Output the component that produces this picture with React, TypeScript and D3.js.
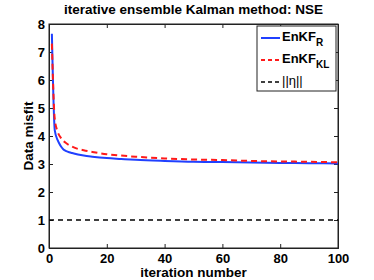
import React, { useEffect, useRef } from 'react';
import * as d3 from 'd3';

// iterations sampled along the curves
const iterations = [1, 2, 3, 4, 5, 6, 7, 8, 10, 12, 15, 20, 25, 30, 40, 50, 60, 70, 80, 90, 100];
const enkfR = [7.65, 4.2, 3.85, 3.65, 3.52, 3.46, 3.42, 3.39, 3.34, 3.3, 3.26, 3.21, 3.18, 3.15, 3.11, 3.08, 3.07, 3.05, 3.04, 3.03, 3.02];
const enkfKL = [7.3, 4.6, 4.15, 3.95, 3.82, 3.74, 3.67, 3.62, 3.54, 3.49, 3.43, 3.35, 3.3, 3.26, 3.2, 3.16, 3.14, 3.11, 3.09, 3.08, 3.06];
const etaIter = [0, 100];
const etaNorm = [1, 1];

const xTicks = [0, 20, 40, 60, 80, 100];
const yTicks = [0, 1, 2, 3, 4, 5, 6, 7, 8];

const App = () => {
  const ref = useRef<SVGSVGElement>(null);

  useEffect(() => {
    const width = 374;
    const height = 280;
    const margin = { top: 24, right: 36, bottom: 32, left: 49 };
    const innerW = width - margin.left - margin.right;
    const innerH = height - margin.top - margin.bottom;

    const svg = d3.select(ref.current);
    svg.selectAll('*').remove();
    svg.attr('width', width).attr('height', height)
      .style('font-family', '"Liberation Sans", Arial, sans-serif');

    const g = svg.append('g').attr('transform', `translate(${margin.left},${margin.top})`);

    const x = d3.scaleLinear().domain([0, 100]).range([0, innerW]);
    const y = d3.scaleLinear().domain([0, 8]).range([innerH, 0]);

    // box
    g.append('rect').attr('width', innerW).attr('height', innerH)
      .attr('fill', 'white').attr('stroke', '#222').attr('stroke-width', 1);

    // axes, ticks pointing inward
    const xAxis = g.append('g').attr('transform', `translate(0,${innerH})`)
      .call(d3.axisBottom(x).tickValues(xTicks).tickSize(-4).tickPadding(6));
    const yAxis = g.append('g')
      .call(d3.axisLeft(y).tickValues(yTicks).tickSize(-4).tickPadding(4));
    g.append('g').call(d3.axisTop(x).tickValues(xTicks).tickSize(-4).tickFormat(() => ''));
    g.append('g').attr('transform', `translate(${innerW},0)`)
      .call(d3.axisRight(y).tickValues(yTicks).tickSize(-4).tickFormat(() => ''));

    g.selectAll('.domain').attr('stroke', '#222');
    g.selectAll('.tick line').attr('stroke', '#222');
    [xAxis, yAxis].forEach((a) => a.selectAll('text')
      .attr('font-size', 13).attr('font-weight', 'bold').attr('fill', '#000')
      .style('font-family', '"Liberation Sans", Arial, sans-serif'));

    const line = d3.line<[number, number]>()
      .x((d) => x(d[0])).y((d) => y(d[1])).curve(d3.curveMonotoneX);

    g.append('path').datum(etaIter.map((v, i) => [v, etaNorm[i]] as [number, number]))
      .attr('d', line).attr('fill', 'none').attr('stroke', '#000')
      .attr('stroke-width', 1.5).attr('stroke-dasharray', '5,4');

    g.append('path').datum(iterations.map((v, i) => [v, enkfR[i]] as [number, number]))
      .attr('d', line).attr('fill', 'none').attr('stroke', '#2040ff').attr('stroke-width', 2);

    g.append('path').datum(iterations.map((v, i) => [v, enkfKL[i]] as [number, number]))
      .attr('d', line).attr('fill', 'none').attr('stroke', '#ff1a1a')
      .attr('stroke-width', 2).attr('stroke-dasharray', '6,4');

    // legend
    const lg = svg.append('g').attr('transform', 'translate(257,26)');
    lg.append('rect').attr('width', 79).attr('height', 65)
      .attr('fill', 'white').attr('stroke', '#222').attr('stroke-width', 1);
    const entries = [
      { name: 'EnKF', sub: 'R', color: '#2040ff', dash: null, w: 2, y: 12 },
      { name: 'EnKF', sub: 'KL', color: '#ff1a1a', dash: '4,3', w: 2, y: 34 },
      { name: '||η||', sub: '', color: '#000', dash: '4,3', w: 1.5, y: 56 },
    ];
    entries.forEach((e) => {
      lg.append('line').attr('x1', 4).attr('x2', 23).attr('y1', e.y).attr('y2', e.y)
        .attr('stroke', e.color).attr('stroke-width', e.w)
        .attr('stroke-dasharray', e.dash);
      const t = lg.append('text').attr('x', 25).attr('y', e.y + 3)
        .attr('font-size', 13).attr('font-weight', e.sub ? 'bold' : 'normal');
      t.append('tspan').text(e.name);
      if (e.sub) {
        t.append('tspan').attr('dy', 5).attr('font-size', 10).text(e.sub);
      }
    });

    // titles
    svg.append('text').attr('x', margin.left + innerW / 2).attr('y', 14)
      .attr('text-anchor', 'middle').attr('font-size', 13.5).attr('font-weight', 'bold')
      .text('iterative ensemble Kalman method: NSE');

    svg.append('text').attr('x', margin.left + innerW / 2).attr('y', 277)
      .attr('text-anchor', 'middle').attr('font-size', 13.5).attr('font-weight', 'bold')
      .text('iteration number');

    svg.append('text').attr('transform', `translate(33,${margin.top + innerH / 2}) rotate(-90)`)
      .attr('text-anchor', 'middle').attr('font-size', 13.5).attr('font-weight', 'bold')
      .text('Data misfit');
  }, []);

  return <svg ref={ref} style={{ position: 'absolute', left: 0, top: 0 }} />;
};

export default App;
